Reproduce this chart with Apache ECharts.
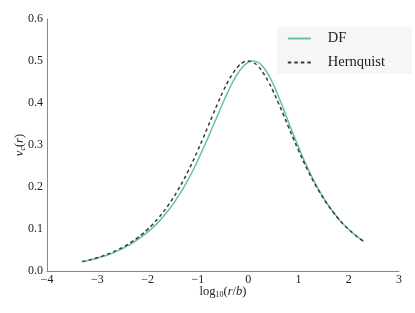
<!DOCTYPE html>
<html>
<head>
<meta charset="utf-8">
<script src="https://cdn.jsdelivr.net/npm/echarts@6/dist/echarts.min.js"></script>
<style>html,body{margin:0;padding:0;background:#fff}#c{width:415px;height:313px}</style>
</head>
<body>
<div id="c"></div>
<script>
const logR = [-3.3,-3.2,-3.1,-3.0,-2.9,-2.8,-2.7,-2.6,-2.5,-2.4,-2.3,-2.2,-2.1,-2.0,-1.9,-1.8,-1.7,-1.6,-1.5,-1.4,-1.3,-1.2,-1.1,-1.0,-0.9,-0.8,-0.7,-0.6,-0.5,-0.4,-0.3,-0.2,-0.1,0.0,0.1,0.2,0.3,0.4,0.5,0.6,0.7,0.8,0.9,1.0,1.1,1.2,1.3,1.4,1.5,1.6,1.7,1.8,1.9,2.0,2.1,2.2,2.3];
const dfValues = [0.0219,0.0245,0.0274,0.0305,0.0342,0.0382,0.0428,0.0478,0.0536,0.0597,0.0665,0.0746,0.0831,0.0925,0.1030,0.1146,0.1281,0.1424,0.1580,0.1762,0.1950,0.2166,0.2387,0.2637,0.2902,0.3165,0.3451,0.3724,0.4006,0.4272,0.4513,0.4715,0.4870,0.4967,0.5000,0.4965,0.4857,0.4679,0.4444,0.4168,0.3866,0.3552,0.3249,0.2956,0.2676,0.2411,0.2166,0.1943,0.1743,0.1560,0.1393,0.1239,0.1108,0.0990,0.0884,0.0789,0.0704];
const hernquistValues = [0.0224,0.0251,0.0282,0.0316,0.0354,0.0398,0.0446,0.0500,0.0561,0.0629,0.0704,0.0789,0.0884,0.0990,0.1108,0.1239,0.1385,0.1546,0.1724,0.1919,0.2132,0.2363,0.2611,0.2875,0.3151,0.3436,0.3724,0.4006,0.4272,0.4513,0.4715,0.4870,0.4967,0.5000,0.4967,0.4870,0.4715,0.4513,0.4272,0.4006,0.3724,0.3436,0.3151,0.2875,0.2611,0.2363,0.2132,0.1919,0.1724,0.1546,0.1385,0.1239,0.1108,0.0990,0.0884,0.0789,0.0704];
const seriesNames = ['DF','Hernquist'];

const font = 'Liberation Serif, DejaVu Serif, serif';
const chart = echarts.init(document.getElementById('c'), null, {renderer:'canvas'});
chart.setOption({
  animation:false,
  textStyle:{fontFamily:font},
  grid:{left:47,right:16,top:19,bottom:42,containLabel:false,outerBoundsMode:'none'},
  legend:{
    orient:'vertical', right:3, top:27,
    backgroundColor:'#f6f6f6', padding:[4,27,4,10],
    itemWidth:23, itemHeight:12, itemGap:9,
    itemStyle:{opacity:0},
    textStyle:{fontFamily:font,fontSize:14.5,color:'#222',padding:[0,0,0,12]},
    data:seriesNames
  },
  xAxis:{
    type:'value', min:-4, max:3, interval:1,
    axisLine:{onZero:false,lineStyle:{color:'#888',width:1}},
    axisTick:{show:false},
    splitLine:{show:false},
    axisLabel:{color:'#222',fontSize:12,fontFamily:font,margin:3,
      formatter:v=>v<0?'\u2212'+Math.abs(v):String(v)},
    name:'{a|log}{s|10}{a|(}{i|r}{a|/}{i|b}{a|)}',
    nameLocation:'middle', nameGap:14, nameMoveOverlap:false,
    nameTextStyle:{rich:{
      a:{fontFamily:font,fontSize:12.5,color:'#222'},
      i:{fontFamily:font,fontSize:12.5,fontStyle:'italic',color:'#222'},
      s:{fontFamily:font,fontSize:8,color:'#222',verticalAlign:'bottom',padding:[6,0,0,0]}
    }}
  },
  yAxis:{
    type:'value', min:0, max:0.6, interval:0.1,
    axisLine:{show:true,onZero:false,lineStyle:{color:'#888',width:1}},
    axisTick:{show:false},
    splitLine:{show:false},
    axisLabel:{color:'#222',fontSize:12,fontFamily:font,margin:4,formatter:v=>v.toFixed(1)},
    name:'{i|v}{s|c}{a|(}{i|r}{a|)}',
    nameLocation:'middle', nameGap:20, nameRotate:90, nameMoveOverlap:false,
    nameTextStyle:{rich:{
      a:{fontFamily:font,fontSize:12.5,color:'#222'},
      i:{fontFamily:font,fontSize:12.5,fontStyle:'italic',color:'#222'},
      s:{fontFamily:font,fontSize:8,fontStyle:'italic',color:'#222',verticalAlign:'bottom',padding:[6,0,0,0]}
    }}
  },
  series:[
    {name:seriesNames[0],type:'line',symbol:'none',smooth:true,
     data:logR.map((x,i)=>[x,dfValues[i]]),
     lineStyle:{color:'#66c2a5',width:1.5},itemStyle:{color:'#66c2a5'},z:2},
    {name:seriesNames[1],type:'line',symbol:'none',smooth:true,
     data:logR.map((x,i)=>[x,hernquistValues[i]]),
     lineStyle:{color:'#3a3a3a',width:1.5,type:[3.5,3]},itemStyle:{color:'#3a3a3a'},z:3}
  ]
});
</script>
</body>
</html>
